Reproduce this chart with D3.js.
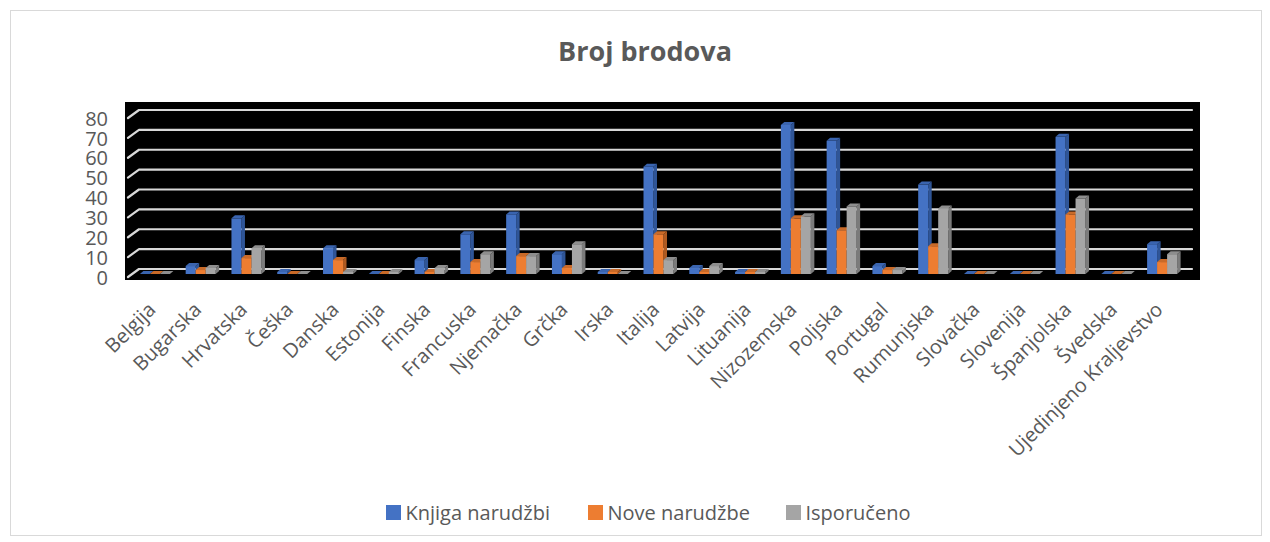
<!DOCTYPE html>
<html>
<head>
<meta charset="utf-8">
<script src="https://cdn.jsdelivr.net/npm/d3@7"></script>
<style>
  html, body { margin: 0; padding: 0; background: #ffffff; }
  svg { display: block; font-family: "Open Sans", "DejaVu Sans", sans-serif; }
</style>
</head>
<body>
<svg id="chart" width="1270" height="542"></svg>
<script>
// Ship counts per country
const categories = ["Belgija", "Bugarska", "Hrvatska", "Češka", "Danska", "Estonija", "Finska",
  "Francuska", "Njemačka", "Grčka", "Irska", "Italija", "Latvija", "Lituanija", "Nizozemska",
  "Poljska", "Portugal", "Rumunjska", "Slovačka", "Slovenija", "Španjolska", "Švedska",
  "Ujedinjeno Kraljevstvo"];
const knjigaNarudzbi = [0, 4, 28, 1, 13, 0, 7, 20, 30, 10, 1, 54, 3, 1, 75, 67, 4, 45, 0, 0, 69, 0, 15];
const noveNarudzbe   = [0, 2, 8, 0, 7, 0, 1, 6, 9, 3, 1, 20, 1, 1, 28, 22, 2, 14, 0, 0, 30, 0, 6];
const isporuceno     = [0, 3, 13, 0, 1, 1, 3, 10, 9, 15, 0, 7, 4, 1, 29, 34, 2, 33, 0, 0, 38, 0, 10];
const seriesNames = ["Knjiga narudžbi", "Nove narudžbe", "Isporučeno"];
const yTicks = [0, 10, 20, 30, 40, 50, 60, 70, 80];

const seriesValues = [knjigaNarudzbi, noveNarudzbe, isporuceno];
// front / side / top face shades for the pseudo-3D columns
const shades = [
  { front: "#4472C4", side: "#2F5597", top: "#3A64AF" },
  { front: "#ED7D31", side: "#AE5A21", top: "#C96A28" },
  { front: "#A5A5A5", side: "#7B7B7B", top: "#8E8E8E" }
];
const textColor = "#595959";

const svg = d3.select("#chart");

// chart frame
svg.append("rect")
  .attr("x", 10.5).attr("y", 10.5).attr("width", 1251).attr("height", 525)
  .attr("fill", "#ffffff").attr("stroke", "#D9D9D9").attr("stroke-width", 1);

// title
svg.append("text")
  .attr("x", 645).attr("y", 61)
  .attr("text-anchor", "middle")
  .attr("font-size", 27).attr("font-weight", 700)
  .attr("fill", textColor)
  .text("Broj brodova");

// plot background
svg.append("rect")
  .attr("x", 125).attr("y", 102).attr("width", 1075).attr("height", 178)
  .attr("fill", "#000000");

const x = d3.scaleBand().domain(categories).range([132, 1185]).padding(0);
const y = d3.scaleLinear().domain([0, 80]).range([274, 115]);

const depthX = 3.5, depthY = 3;     // column depth offset
const barW = 10;                    // column width
const backOff = 5, frontOff = 3;    // gridline back / front edge relative to column scale

// gridlines with a short perspective edge at the left wall
const grid = svg.append("g");
yTicks.forEach(t => {
  const yb = y(t) - backOff, yf = y(t) + frontOff;
  grid.append("path")
    .attr("d", `M128,${yf} L139,${yb} L1192,${yb}`)
    .attr("fill", "none")
    .attr("stroke", "#D9D9D9")
    .attr("stroke-width", 2.2)
    .attr("stroke-linecap", "round")
    .attr("stroke-linejoin", "round");
});

// y-axis labels
const yAxis = d3.axisLeft(d3.scaleLinear().domain([0, 80]).range([y(0) + frontOff, y(80) + frontOff]))
  .tickValues(yTicks).tickSize(0).tickPadding(0);
const yG = svg.append("g").attr("transform", "translate(108,0)").call(yAxis);
yG.select(".domain").remove();
yG.selectAll("text")
  .attr("font-size", 20)
  .attr("font-family", "'Open Sans', sans-serif")
  .attr("fill", textColor)
  .attr("dy", "0.36em");

// columns
const bars = svg.append("g");
categories.forEach((c, i) => {
  const cx = x(c) + x.bandwidth() / 2;
  seriesValues.forEach((vals, s) => {
    const v = vals[i];
    const x0 = cx - 15 + s * barW;
    const x1 = x0 + barW;
    const yt = y(v), yb = y(0);
    const g = bars.append("g");
    // right side face
    g.append("path")
      .attr("d", `M${x1},${yt} L${x1 + depthX},${yt - depthY} L${x1 + depthX},${yb - depthY} L${x1},${yb} Z`)
      .attr("fill", shades[s].side);
    // front face
    g.append("rect")
      .attr("x", x0).attr("y", yt).attr("width", barW).attr("height", yb - yt)
      .attr("fill", shades[s].front);
    // top face
    g.append("path")
      .attr("d", `M${x0},${yt} L${x0 + depthX},${yt - depthY} L${x1 + depthX},${yt - depthY} L${x1},${yt} Z`)
      .attr("fill", shades[s].top);
  });
});

// category labels, rotated
const xAxis = d3.axisBottom(x).tickSize(0).tickPadding(0);
const xG = svg.append("g").attr("transform", "translate(0,0)").call(xAxis);
xG.select(".domain").remove();
xG.selectAll(".tick").attr("transform", d => `translate(${x(d) + x.bandwidth() / 2 + 2},311)`);
xG.selectAll("text")
  .attr("font-size", 20)
  .attr("font-family", "'Open Sans', sans-serif")
  .attr("fill", textColor)
  .attr("text-anchor", "end")
  .attr("x", 0).attr("y", 0).attr("dy", 0)
  .attr("transform", "rotate(-45)");

// legend
const legendItems = [
  { name: seriesNames[0], x: 386 },
  { name: seriesNames[1], x: 588 },
  { name: seriesNames[2], x: 786 }
];
const legend = svg.append("g");
legendItems.forEach((d, i) => {
  legend.append("rect")
    .attr("x", d.x).attr("y", 505).attr("width", 15).attr("height", 15)
    .attr("fill", shades[i].front);
  legend.append("text")
    .attr("x", d.x + 19.5).attr("y", 513)
    .attr("dy", "0.36em")
    .attr("font-size", 20)
    .attr("fill", textColor)
    .text(d.name);
});
</script>
</body>
</html>
